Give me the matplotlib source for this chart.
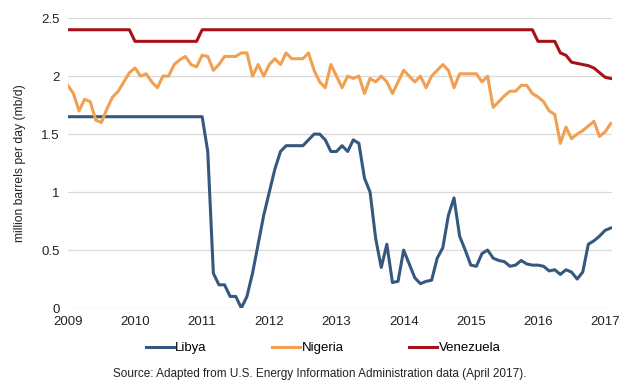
import matplotlib
matplotlib.use("Agg")
from matplotlib import pyplot as plt
import numpy as np

plt.rcParams['font.family'] = ['Liberation Sans', 'DejaVu Sans']

# monthly values, Jan 2009 .. Feb 2017 (million barrels per day)
libya = [1.65, 1.65, 1.65, 1.65, 1.65, 1.65, 1.65, 1.65, 1.65, 1.65, 1.65, 1.65,
         1.65, 1.65, 1.65, 1.65, 1.65, 1.65, 1.65, 1.65, 1.65, 1.65, 1.65, 1.65,
         1.65, 1.35, 0.30, 0.20, 0.20, 0.10, 0.10, 0.00, 0.10, 0.30, 0.55, 0.80,
         1.00, 1.20, 1.35, 1.40, 1.40, 1.40, 1.40, 1.45, 1.50, 1.50, 1.45, 1.35,
         1.35, 1.40, 1.35, 1.45, 1.42, 1.12, 1.00, 0.60, 0.35, 0.55, 0.22, 0.23,
         0.50, 0.38, 0.26, 0.21, 0.23, 0.24, 0.43, 0.52, 0.80, 0.95, 0.62, 0.50,
         0.37, 0.36, 0.47, 0.50, 0.43, 0.41, 0.40, 0.36, 0.37, 0.41, 0.38, 0.37,
         0.37, 0.36, 0.32, 0.33, 0.29, 0.33, 0.31, 0.25, 0.31, 0.55, 0.58, 0.62,
         0.67, 0.69]
nigeria = [1.92, 1.85, 1.70, 1.80, 1.78, 1.62, 1.60, 1.72, 1.82, 1.87, 1.95, 2.03,
           2.07, 2.00, 2.02, 1.95, 1.90, 2.00, 2.00, 2.10, 2.14, 2.17, 2.10, 2.08,
           2.18, 2.17, 2.05, 2.10, 2.17, 2.17, 2.17, 2.20, 2.20, 2.00, 2.10, 2.00,
           2.10, 2.15, 2.10, 2.20, 2.15, 2.15, 2.15, 2.20, 2.05, 1.95, 1.90, 2.10,
           2.00, 1.90, 2.00, 1.98, 2.00, 1.85, 1.98, 1.95, 2.00, 1.95, 1.85, 1.95,
           2.05, 2.00, 1.95, 2.00, 1.90, 2.00, 2.05, 2.10, 2.05, 1.90, 2.02, 2.02,
           2.02, 2.02, 1.95, 2.00, 1.73, 1.78, 1.83, 1.87, 1.87, 1.92, 1.92, 1.85,
           1.82, 1.78, 1.70, 1.67, 1.42, 1.56, 1.46, 1.50, 1.53, 1.57, 1.61, 1.48,
           1.52, 1.59]
venezuela = [2.4, 2.4, 2.4, 2.4, 2.4, 2.4, 2.4, 2.4, 2.4, 2.4, 2.4, 2.4,
             2.3, 2.3, 2.3, 2.3, 2.3, 2.3, 2.3, 2.3, 2.3, 2.3, 2.3, 2.3,
             2.4, 2.4, 2.4, 2.4, 2.4, 2.4, 2.4, 2.4, 2.4, 2.4, 2.4, 2.4,
             2.4, 2.4, 2.4, 2.4, 2.4, 2.4, 2.4, 2.4, 2.4, 2.4, 2.4, 2.4,
             2.4, 2.4, 2.4, 2.4, 2.4, 2.4, 2.4, 2.4, 2.4, 2.4, 2.4, 2.4,
             2.4, 2.4, 2.4, 2.4, 2.4, 2.4, 2.4, 2.4, 2.4, 2.4, 2.4, 2.4,
             2.4, 2.4, 2.4, 2.4, 2.4, 2.4, 2.4, 2.4, 2.4, 2.4, 2.4, 2.4,
             2.3, 2.3, 2.3, 2.3, 2.20, 2.18, 2.12, 2.11, 2.10, 2.09, 2.07, 2.03,
             1.99, 1.98]
years = [2009, 2010, 2011, 2012, 2013, 2014, 2015, 2016, 2017]
yticks = [0, 0.5, 1, 1.5, 2, 2.5]

t = 2009 + np.arange(len(libya)) / 12.0

fig = plt.figure(figsize=(6.4, 3.86), dpi=100)
ax = fig.add_axes([0.106, 0.202, 0.85, 0.751])

ax.plot(t, libya, color='#35587f', lw=2.2, label='Libya', solid_joinstyle='round')
ax.plot(t, nigeria, color='#f0a050', lw=2.2, label='Nigeria', solid_joinstyle='round')
ax.plot(t, venezuela, color='#a8111a', lw=2.2, label='Venezuela', solid_joinstyle='round')

ax.set_xlim(2009, 2017.1)
ax.set_ylim(0, 2.5)
ax.set_xticks(years)
ax.set_xticklabels([str(y) for y in years])
ax.set_yticks(yticks)
ax.set_yticklabels(['0', '0.5', '1', '1.5', '2', '2.5'])
ax.tick_params(length=0, labelsize=9.5, colors='#222222', pad=6)
ax.grid(axis='y', color='#d9d9d9', lw=0.9)
ax.set_axisbelow(True)
for s in ax.spines.values():
    s.set_visible(False)
ax.set_ylabel('million barrels per day (mb/d)', fontsize=8.7, color='#222222', labelpad=11)

fig.legend(loc='center', bbox_to_anchor=(0.505, 0.098), ncol=3, frameon=False,
           fontsize=9.5, handlelength=2.1, handletextpad=0.1, columnspacing=5.0)
fig.text(0.5, 0.03, 'Source: Adapted from U.S. Energy Information Administration data (April 2017).',
         ha='center', va='center', fontsize=8.5, color='#222222')

fig.savefig('out.png', dpi=100, facecolor='white')
